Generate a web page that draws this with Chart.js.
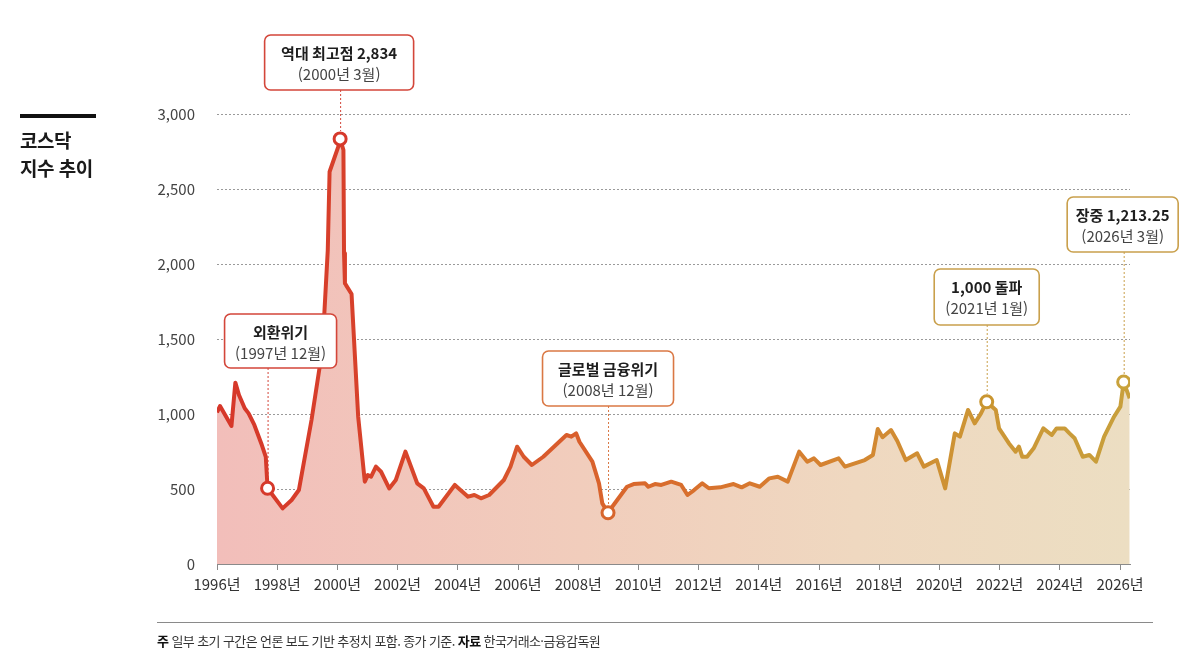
<!DOCTYPE html>
<html lang="ko">
<head>
<meta charset="utf-8">
<title>코스닥 지수 추이</title>
<script src="https://cdn.jsdelivr.net/npm/chart.js@4.4.1/dist/chart.umd.min.js"></script>
<style>
  body { margin: 0; background: #fff; font-family: "Noto Sans CJK KR", sans-serif; }
  #wrap { position: relative; width: 1203px; height: 671px; overflow: hidden; }
  #kosdaq { position: absolute; left: 0; top: 0; }
  .bar { position: absolute; left: 20px; top: 114px; width: 76px; height: 4px; background: #111; }
  .title { position: absolute; left: 20px; top: 126px; font-size: 19px; font-weight: bold; line-height: 28px; color: #1a1a1a; letter-spacing: -0.5px; }
  .rule { position: absolute; left: 157px; top: 622px; width: 996px; height: 1px; background: #8a8a8a; }
  .note { position: absolute; left: 157px; top: 631px; font-size: 13px; color: #333; letter-spacing: -0.6px; }
  .note b { color: #111; }
</style>
</head>
<body>
<div id="wrap">
  <canvas id="kosdaq" width="1203" height="671"></canvas>
  <div class="bar"></div>
  <div class="title">코스닥<br>지수 추이</div>
  <div class="rule"></div>
  <div class="note"><b>주</b> 일부 초기 구간은 언론 보도 기반 추정치 포함. 종가 기준. <b>자료</b> 한국거래소·금융감독원</div>
</div>
<script>
// KOSDAQ index (year as decimal, index value)
const years = [1996.00, 1996.10, 1996.48, 1996.61, 1996.73, 1996.92, 1997.05, 1997.24, 1997.49, 1997.62,
  1997.68, 1998.18, 1998.48, 1998.72, 1999.14, 1999.38, 1999.50, 1999.68, 1999.74, 2000.03,
  2000.09, 2000.20, 2000.22, 2000.25, 2000.47, 2000.69, 2000.91, 2001.01, 2001.12, 2001.28,
  2001.45, 2001.72, 2001.94, 2002.26, 2002.65, 2002.87, 2003.19, 2003.36, 2003.90, 2004.34,
  2004.55, 2004.77, 2005.04, 2005.53, 2005.75, 2005.97, 2006.19, 2006.46, 2006.84, 2007.61,
  2007.77, 2007.93, 2008.04, 2008.47, 2008.69, 2008.80, 2008.99, 2009.13, 2009.62, 2009.84,
  2010.22, 2010.33, 2010.55, 2010.76, 2011.09, 2011.42, 2011.63, 2011.85, 2012.12, 2012.34,
  2012.72, 2013.16, 2013.43, 2013.70, 2014.03, 2014.35, 2014.63, 2014.96, 2015.34, 2015.61,
  2015.83, 2016.05, 2016.65, 2016.86, 2017.19, 2017.52, 2017.79, 2017.95, 2018.11, 2018.39,
  2018.60, 2018.88, 2019.26, 2019.48, 2019.91, 2020.19, 2020.51, 2020.68, 2020.95, 2021.17,
  2021.38, 2021.57, 2021.87, 2021.98, 2022.31, 2022.53, 2022.64, 2022.75, 2022.91, 2023.13,
  2023.45, 2023.73, 2023.89, 2024.16, 2024.32, 2024.49, 2024.76, 2024.98, 2025.20, 2025.47,
  2025.80, 2026.01, 2026.12, 2026.32];
const values = [1010, 1053, 920, 1209, 1127, 1038, 1004, 927, 793, 715,
  505, 371, 427, 493, 960, 1273, 1427, 2093, 2615, 2782,
  2834, 2760, 2071, 1871, 1800, 982, 549, 593, 582, 649,
  615, 504, 560, 749, 538, 504, 382, 382, 527, 449,
  460, 438, 460, 560, 649, 782, 715, 660, 715, 860,
  849, 871, 815, 682, 538, 404, 342, 382, 515, 533,
  538, 515, 533, 527, 549, 527, 460, 493, 538, 505,
  511, 533, 511, 538, 515, 571, 582, 549, 749, 682,
  704, 660, 704, 649, 671, 693, 727, 900, 845, 893,
  820, 693, 738, 649, 693, 504, 871, 849, 1027, 938,
  1004, 1082, 1027, 904, 804, 749, 782, 715, 715, 771,
  904, 860, 904, 904, 871, 838, 715, 727, 682, 849,
  982, 1049, 1213.25, 1104];

// highlighted points
const markerYears = [1997.68, 2000.09, 2008.99, 2021.57, 2026.12];
const markerValues = [505, 2834, 342, 1082, 1213.25];
const markerTitles = ['외환위기', '역대 최고점 2,834', '글로벌 금융위기', '1,000 돌파', '장중 1,213.25'];
const markerSubs = ['(1997년 12월)', '(2000년 3월)', '(2008년 12월)', '(2021년 1월)', '(2026년 3월)'];

const yTicks = [0, 500, 1000, 1500, 2000, 2500, 3000];
const xTicks = [1996, 1998, 2000, 2002, 2004, 2006, 2008, 2010, 2012, 2014, 2016, 2018, 2020, 2022, 2024, 2026];

// callout box layout (top, width, height, x shift) and colours
const boxLayout = [
  { top: 314, w: 112, h: 54, dx: 13, color: '#d3463a' },
  { top: 35, w: 149, h: 55, dx: -1, color: '#d3463a' },
  { top: 351, w: 131, h: 55, dx: 0, color: '#da7844' },
  { top: 269, w: 105, h: 56, dx: 0, color: '#c9a04c' },
  { top: 197, w: 111, h: 55, dx: -1, color: '#c9a04c' }
];
const markerColors = ['#d6392b', '#d6392b', '#d7652c', '#c9952f', '#c9a23b'];

Chart.defaults.font.family = '"Noto Sans CJK KR", sans-serif';

let lineGrad, fillGrad;
function gradients(chart) {
  const area = chart.chartArea;
  if (!lineGrad) {
    const c = chart.ctx;
    lineGrad = c.createLinearGradient(area.left, 0, area.right, 0);
    lineGrad.addColorStop(0, '#d6372a');
    lineGrad.addColorStop(0.22, '#d8452b');
    lineGrad.addColorStop(0.42, '#d9632c');
    lineGrad.addColorStop(0.62, '#d77d2f');
    lineGrad.addColorStop(0.82, '#cd9434');
    lineGrad.addColorStop(1, '#c8a03c');
    fillGrad = c.createLinearGradient(area.left, 0, area.right, 0);
    fillGrad.addColorStop(0, 'rgb(242,190,186)');
    fillGrad.addColorStop(0.4, 'rgb(241,205,188)');
    fillGrad.addColorStop(0.7, 'rgb(239,216,192)');
    fillGrad.addColorStop(1, 'rgb(236,222,194)');
  }
  return { lineGrad, fillGrad };
}

const calloutPlugin = {
  id: 'callouts',
  afterDatasetsDraw(chart) {
    const { ctx, scales: { x, y } } = chart;
    markerYears.forEach((yr, i) => {
      const px = x.getPixelForValue(yr);
      const py = y.getPixelForValue(markerValues[i]);
      const b = boxLayout[i];
      const cx = px + b.dx;
      const left = cx - b.w / 2;
      ctx.save();
      // dotted connector
      ctx.strokeStyle = b.color;
      ctx.lineWidth = 1;
      ctx.setLineDash([2, 2]);
      ctx.beginPath();
      ctx.moveTo(px + 0.5, b.top + b.h);
      ctx.lineTo(px + 0.5, py - 8);
      ctx.stroke();
      // box
      ctx.setLineDash([]);
      ctx.lineWidth = 1.6;
      ctx.fillStyle = '#fff';
      ctx.beginPath();
      ctx.roundRect(left, b.top, b.w, b.h, 6);
      ctx.fill();
      ctx.stroke();
      // text
      ctx.textAlign = 'center';
      ctx.textBaseline = 'middle';
      ctx.fillStyle = '#1e1e1e';
      ctx.font = 'bold 15px "Noto Sans CJK KR"';
      ctx.fillText(markerTitles[i], cx, b.top + 18);
      ctx.fillStyle = '#444';
      ctx.font = '15px "Noto Sans CJK KR"';
      ctx.fillText(markerSubs[i], cx, b.top + 39);
      ctx.restore();
    });
  }
};

new Chart(document.getElementById('kosdaq'), {
  type: 'line',
  data: {
    datasets: [
      {
        label: '주요 시점',
        data: markerYears.map((x, i) => ({ x, y: markerValues[i] })),
        showLine: false,
        pointRadius: 6,
        pointBorderWidth: 3,
        pointBackgroundColor: '#fff',
        pointBorderColor: markerColors,
        order: 0
      },
      {
        label: '코스닥 지수',
        data: years.map((x, i) => ({ x, y: values[i] })),
        borderColor: ctx => ctx.chart.chartArea ? gradients(ctx.chart).lineGrad : '#d6392b',
        backgroundColor: ctx => ctx.chart.chartArea ? gradients(ctx.chart).fillGrad : '#f2c4bf',
        borderWidth: 4,
        borderJoinStyle: 'round',
        fill: 'origin',
        pointRadius: 0,
        tension: 0,
        order: 1
      }
    ]
  },
  options: {
    responsive: false,
    animation: false,
    devicePixelRatio: 1,
    layout: { padding: { left: 0, right: 73, top: 114, bottom: 0 } },
    plugins: { legend: { display: false }, tooltip: { enabled: false } },
    scales: {
      x: {
        type: 'linear',
        min: 1996,
        max: 2026.33,
        afterBuildTicks: scale => { scale.ticks = xTicks.map(v => ({ value: v })); },
        afterFit: scale => { scale.height = 107; },
        grid: { drawOnChartArea: false, color: '#8a8a8a', tickLength: 6 },
        border: { color: '#8a8a8a', width: 1 },
        ticks: {
          autoSkip: false,
          maxRotation: 0,
          padding: 5,
          color: '#333',
          font: { size: 15 },
          callback: v => v + '년'
        }
      },
      y: {
        min: 0,
        max: 3000,
        afterBuildTicks: scale => { scale.ticks = yTicks.map(v => ({ value: v })); },
        afterFit: scale => { scale.width = 217; },
        grid: {
          drawTicks: false,
          color: c => c.tick && c.tick.value === 0 ? 'rgba(0,0,0,0)' : '#9a9a9a',
          lineWidth: 1
        },
        border: { display: false, dash: [2, 2] },
        ticks: {
          padding: 22,
          color: '#444',
          font: { size: 15 },
          callback: v => v.toLocaleString('en-US')
        }
      }
    }
  },
  plugins: [calloutPlugin]
});
</script>
</body>
</html>
